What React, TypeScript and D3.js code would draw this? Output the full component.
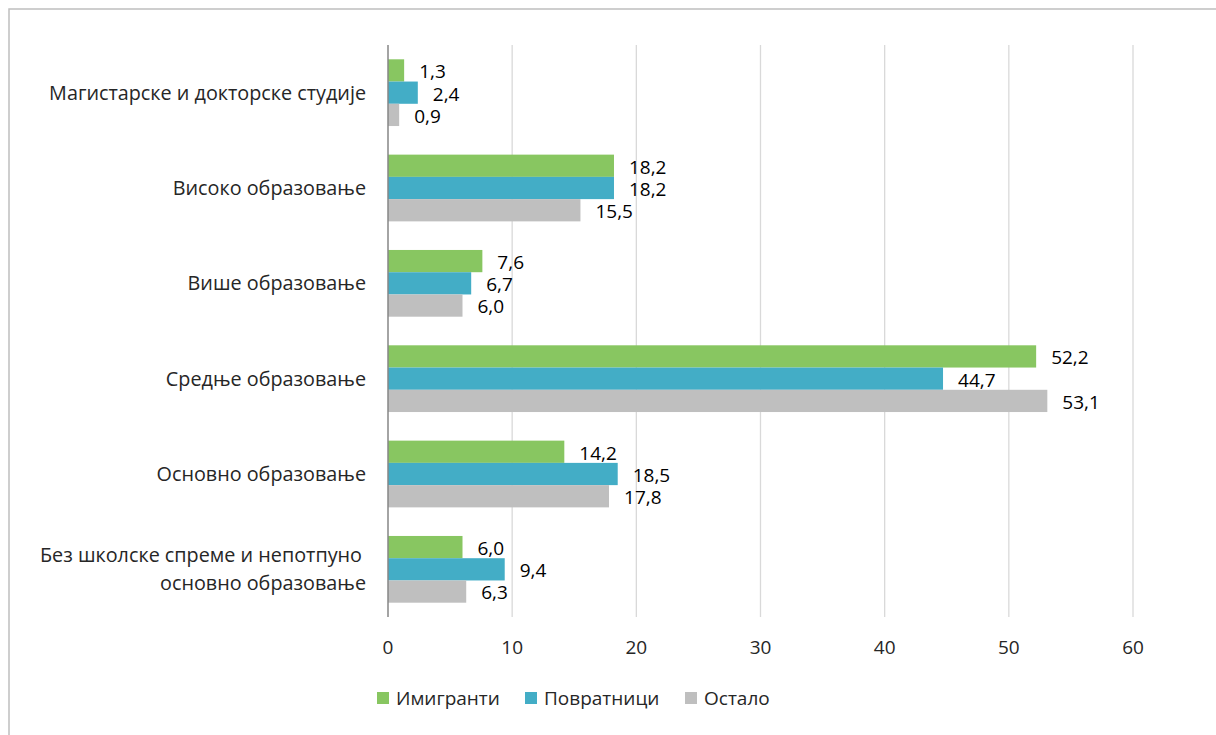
import React from "react";
import * as d3 from "d3";

const categories = [
  ["Магистарске и докторске студије"],
  ["Високо образовање"],
  ["Више образовање"],
  ["Средње образовање"],
  ["Основно образовање"],
  ["Без школске спреме и непотпуно", "основно образовање"],
];
const seriesNames = ["Имигранти", "Повратници", "Остало"];
const imigranti = [1.3, 18.2, 7.6, 52.2, 14.2, 6.0];
const povratnici = [2.4, 18.2, 6.7, 44.7, 18.5, 9.4];
const ostalo = [0.9, 15.5, 6.0, 53.1, 17.8, 6.3];
const xTicks = [0, 10, 20, 30, 40, 50, 60];

const colors = ["#88c661", "#43adc6", "#bfbfbf"];
const FONT = "'Open Sans', sans-serif";

export default function App() {
  const W = 1216, H = 735;
  const left = 388, right = 1133, top = 45, bottom = 617;
  const x = d3.scaleLinear().domain([0, 60]).range([left, right]);
  const y = d3.scaleBand<number>().domain(d3.range(categories.length)).range([top, bottom]).paddingInner(0.3).paddingOuter(0.15);
  const series = [imigranti, povratnici, ostalo];
  const sub = d3.scaleBand<number>().domain([0, 1, 2]).range([0, y.bandwidth()]);
  const fmt = (v: number) => v.toFixed(1).replace(".", ",");
  const legendX = [377, 525, 685];

  return (
    <div style={{ position: "fixed", left: 0, top: 0 }}>
      <svg width={W} height={H} style={{ display: "block", background: "#fff" }}>
        <rect x={9} y={9} width={1400} height={1000} fill="none" stroke="#bfbfbf" strokeWidth={1.5} />
        {xTicks.slice(1).map((t) => (
          <line key={t} x1={x(t)} x2={x(t)} y1={top} y2={bottom} stroke="#d9d9d9" strokeWidth={1.3} />
        ))}
        {categories.map((c, i) => (
          <g key={i}>
            {series.map((s, j) => {
              const yy = (y(i) as number) + (sub(j) as number);
              return (
                <g key={j}>
                  <rect x={x(0)} y={yy} width={x(s[i]) - x(0)} height={sub.bandwidth()} fill={colors[j]} />
                  <text x={x(s[i]) + 15} y={yy + sub.bandwidth() / 2 + 1} dy="0.36em" fontFamily={FONT} fontSize={19} fill="#000">
                    {fmt(s[i])}
                  </text>
                </g>
              );
            })}
            {c.map((line, k) => (
              <text
                key={k}
                x={k === 0 && c.length > 1 ? 362 : 366}
                y={(y(i) as number) + y.bandwidth() / 2 + (k - (c.length - 1) / 2) * 28}
                dy="0.36em"
                textAnchor="end"
                fontFamily={FONT}
                fontSize={19.8}
                fill="#262626"
              >
                {line}
              </text>
            ))}
          </g>
        ))}
        <line x1={x(0)} x2={x(0)} y1={top} y2={bottom} stroke="#868686" strokeWidth={1.5} />
        {xTicks.map((t) => (
          <text key={t} x={x(t)} y={647} dy="0.36em" textAnchor="middle" fontFamily={FONT} fontSize={19} fill="#262626">
            {t}
          </text>
        ))}
        {seriesNames.map((n, j) => (
          <g key={n}>
            <rect x={legendX[j]} y={692} width={12} height={12} fill={colors[j]} />
            <text x={legendX[j] + 19} y={698} dy="0.36em" fontFamily={FONT} fontSize={19} fill="#262626">
              {n}
            </text>
          </g>
        ))}
      </svg>
    </div>
  );
}
